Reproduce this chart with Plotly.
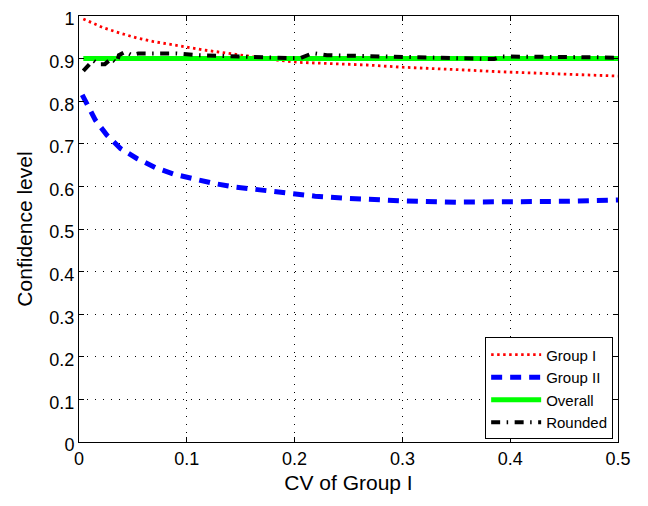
import plotly.graph_objects as go

# Group I (red dotted)
g1_x = [0.004, 0.023, 0.038, 0.054, 0.069, 0.085, 0.100, 0.116, 0.131, 0.147, 0.165, 0.185, 0.205,
        0.236, 0.267, 0.298, 0.329, 0.360, 0.391, 0.421, 0.452, 0.5]
g1_y = [0.993, 0.972, 0.960, 0.948, 0.940, 0.933, 0.927, 0.920, 0.915, 0.909, 0.903, 0.896, 0.891,
        0.888, 0.885, 0.880, 0.877, 0.873, 0.869, 0.866, 0.863, 0.859]

# Group II (blue dashed)
g2_x = [0.003, 0.0153, 0.026, 0.0385, 0.054, 0.071, 0.089, 0.106, 0.125, 0.143, 0.162, 0.180, 0.199,
        0.219, 0.25, 0.3, 0.35, 0.4, 0.45, 0.5]
g2_y = [0.815, 0.755, 0.720, 0.689, 0.665, 0.644, 0.628, 0.617, 0.607, 0.599, 0.593, 0.587, 0.582,
        0.577, 0.572, 0.566, 0.563, 0.563, 0.565, 0.568]

# Overall (green)
ov_x = [0.004, 0.5]
ov_y = [0.9, 0.9]

# Rounded (black dash-dot)
rd_x = [0.004, 0.009, 0.013, 0.018, 0.024, 0.030, 0.035, 0.037, 0.043, 0.049, 0.055, 0.07, 0.09,
        0.11, 0.13, 0.15, 0.18, 0.2, 0.205, 0.210, 0.217, 0.23, 0.25, 0.28, 0.3, 0.33, 0.36, 0.385,
        0.392, 0.42, 0.45, 0.48, 0.5]
rd_y = [0.871, 0.884, 0.896, 0.887, 0.887, 0.900, 0.890, 0.908, 0.916, 0.908, 0.912, 0.912, 0.912,
        0.908, 0.906, 0.905, 0.903, 0.901, 0.901, 0.905, 0.913, 0.908, 0.907, 0.906, 0.905, 0.903,
        0.901, 0.899, 0.905, 0.905, 0.904, 0.903, 0.902]

x_ticks = [0, 0.1, 0.2, 0.3, 0.4, 0.5]
x_labels = ["0", "0.1", "0.2", "0.3", "0.4", "0.5"]
y_ticks = [0, 0.1, 0.2, 0.3, 0.4, 0.5, 0.6, 0.7, 0.8, 0.9, 1.0]
y_labels = ["0", "0.1", "0.2", "0.3", "0.4", "0.5", "0.6", "0.7", "0.8", "0.9", "1"]

FONT = "Liberation Sans, Arial, Helvetica"

fig = go.Figure()
fig.add_trace(go.Scatter(x=g1_x, y=g1_y, mode="lines", name="Group I",
                         line=dict(color="#ff0000", width=2.8, dash="2.5px,3.5px")))
fig.add_trace(go.Scatter(x=g2_x, y=g2_y, mode="lines", name="Group II",
                         line=dict(color="#0000ff", width=5, dash="11px,8px")))
fig.add_trace(go.Scatter(x=ov_x, y=ov_y, mode="lines", name="Overall",
                         line=dict(color="#00ff00", width=5)))
fig.add_trace(go.Scatter(x=rd_x, y=rd_y, mode="lines", name="Rounded",
                         line=dict(color="#000000", width=4, dash="9px,6.5px,1.5px,6.5px")))

axis_common = dict(
    showline=True, linecolor="black", linewidth=1, mirror="ticks",
    ticks="inside", ticklen=5, tickcolor="black",
    showgrid=True, gridcolor="black", gridwidth=1, griddash="1px,7px",
    zeroline=False, ticklabeloverflow="allow", automargin=False,
    tickfont=dict(family=FONT, size=18, color="black"),
)

fig.update_xaxes(range=[0, 0.5], tickvals=x_ticks, ticktext=x_labels,
                 title=dict(text="CV of Group I", font=dict(family=FONT, size=21, color="black"),
                            standoff=7),
                 **axis_common)
fig.update_yaxes(range=[0, 1], tickvals=y_ticks, ticktext=y_labels, ticklabelshift=3,
                 title=dict(text="Confidence level", font=dict(family=FONT, size=21, color="black"),
                            standoff=11),
                 **axis_common)

# The page body adds an 8px offset, so the figure is sized and margined to compensate.
fig.update_layout(
    width=640, height=498,
    margin=dict(l=70.5, r=30, t=7.7, b=64.3),
    paper_bgcolor="white", plot_bgcolor="white",
    font=dict(family=FONT, size=15, color="black"),
    legend=dict(x=0.991, y=0.006, xanchor="right", yanchor="bottom",
                bgcolor="white", bordercolor="black", borderwidth=1,
                font=dict(family=FONT, size=15, color="black"),
                itemwidth=50, tracegroupgap=0),
    showlegend=True,
)

fig.write_html("out.html")
